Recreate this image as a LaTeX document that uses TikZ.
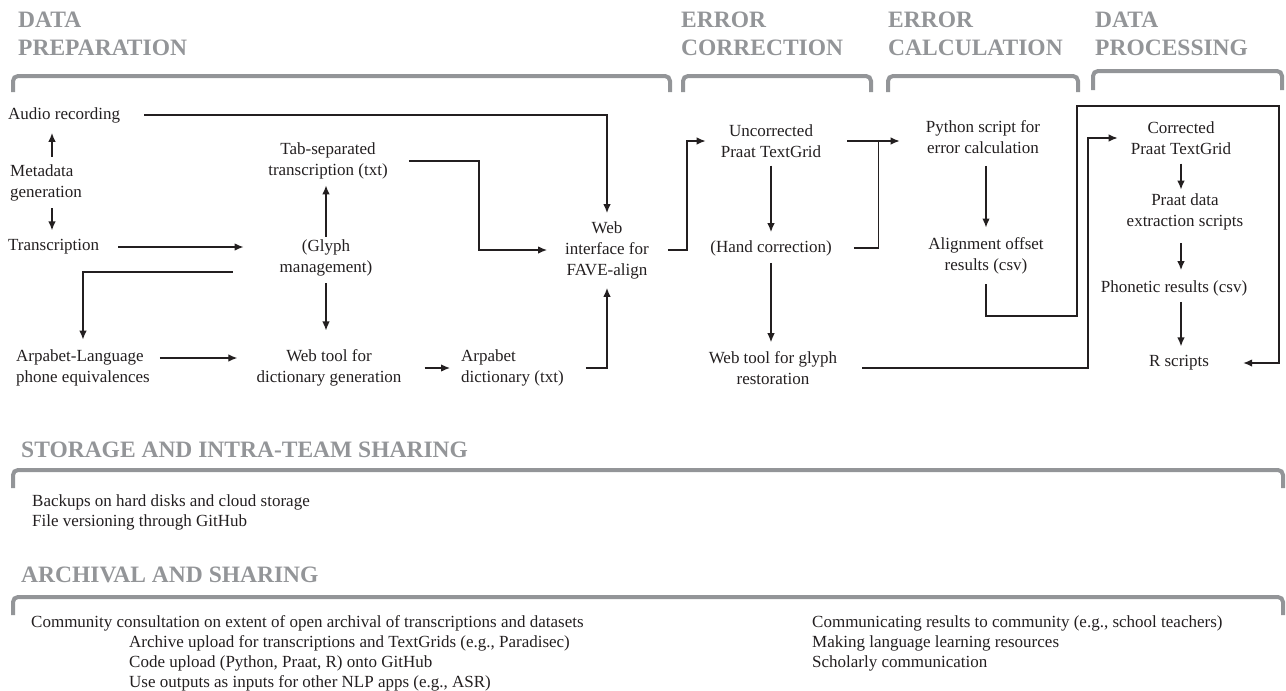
\documentclass[tikz,border=0pt]{standalone}
\usepackage{fontspec}
\setmainfont{Liberation Serif}
\usepackage{tikz}
\usetikzlibrary{arrows.meta,calc}
\definecolor{headgray}{RGB}{147,149,152}
\definecolor{ink}{RGB}{35,31,32}

\begin{document}
\begin{tikzpicture}[x=1pt,y=-1pt,
  txt/.style={inner sep=0pt,font=\fontsize{17}{21}\selectfont,text=ink},
  list/.style={txt,anchor=west,align=left,font=\fontsize{17}{20}\selectfont},
  head/.style={inner sep=0pt,anchor=west,align=left,font=\fontsize{23.5}{28}\selectfont\bfseries,text=headgray},
  arr/.style={draw=ink,line width=1.3pt,-{Latex[length=9pt,width=7.5pt]}},
  bracket/.style={draw=headgray,line width=4pt,rounded corners=5pt}]
\useasboundingbox (0,0) rectangle (1286,691);
\node[head] (hprep) at (18,34) {DATA\\PREPARATION};
\node[head] (hcorr) at (681,34) {ERROR\\CORRECTION};
\node[head] (hcalc) at (888,34) {ERROR\\CALCULATION};
\node[head] (hproc) at (1095,34) {DATA\\PROCESSING};
\node[head] (hstore) at (21,450) {STORAGE AND INTRA-TEAM SHARING};
\node[head] (harch) at (21,575) {ARCHIVAL AND SHARING};
\foreach \xa/\xb/\yt/\yb in {13/670/76/92,683/871/76/92,888/1078/76/92,1093/1282/71/90,13/1283/470/488,13/1283/597/615}
  \draw[bracket] (\xa,\yb) -- (\xa,\yt) -- (\xb,\yt) -- (\xb,\yb);
\node[txt,anchor=west] (audio) at (8,115) {Audio recording};
\node[txt,anchor=west,align=left] (meta) at (10,183) {Metadata\\generation};
\node[txt,anchor=west] (trans) at (8,247) {Transcription};
\node[txt,anchor=west,align=left] (arpl) at (16,368) {Arpabet-Language\\phone equivalences};
\node[txt,align=center] (tab) at (328,161) {Tab-separated\\transcription (txt)};
\node[txt,align=center] (glyph) at (326,258) {(Glyph\\management)};
\node[txt,align=center] (webdict) at (329,368) {Web tool for\\dictionary generation};
\node[txt,anchor=west,align=left] (arpd) at (461,368) {Arpabet\\dictionary (txt)};
\node[txt,align=center] (fave) at (607,250) {Web\\interface for\\FAVE-align};
\node[txt,align=center] (uncor) at (771,141) {Uncorrected\\Praat TextGrid};
\node[txt] (hand) at (771,248) {(Hand correction)};
\node[txt,align=center] (glyphweb) at (773,368) {Web tool for glyph\\restoration};
\node[txt,align=center] (python) at (983,137) {Python script for\\error calculation};
\node[txt,align=center] (offset) at (986,256) {Alignment offset\\results (csv)};
\node[txt,align=center] (corr) at (1181,138) {Corrected\\Praat TextGrid};
\node[txt,align=center] (praat) at (1185,212) {Praat data\\extraction scripts};
\node[txt] (phon) at (1174,288) {Phonetic results (csv)};
\node[txt] (rscr) at (1179,363) {R scripts};
\node[list] (store) at (32,512) {Backups on hard disks and cloud storage\\File versioning through GitHub};
\node[txt,anchor=west] (consult) at (31,623) {Community consultation on extent of open archival of transcriptions and datasets};
\node[list] (archive) at (129,663) {Archive upload for transcriptions and TextGrids (e.g., Paradisec)\\Code upload (Python, Praat, R) onto GitHub\\Use outputs as inputs for other NLP apps (e.g., ASR)};
\node[list] (outreach) at (812,643) {Communicating results to community (e.g., school teachers)\\Making language learning resources\\Scholarly communication};
\coordinate (metacol) at (52,0);
\coordinate (tabturn) at (479,0);
\coordinate (faveturn) at (687,0);
\coordinate (corrturn) at (1088,0);
\coordinate (offturn) at (1077,316);
\coordinate (loop) at (1279,106);
\coordinate (errjoin) at ($(uncor.east)!.55!(uncor.east -| python.west)$);
\draw[arr,shorten <=24pt,shorten >=8pt] (audio.east) -| (fave.north);
\draw[arr,shorten <=8pt,shorten >=10pt] (meta.north -| metacol) -- (audio.south -| metacol);
\draw[arr,shorten <=7pt,shorten >=9pt] (meta.south -| metacol) -- (trans.north -| metacol);
\draw[arr,shorten <=19pt,shorten >=36pt] (trans.east) -- (trans.east -| glyph.west);
\draw[arr,shorten <=3pt,shorten >=6pt] (glyph.north) -- (glyph.north |- tab.south);
\draw[arr,shorten <=47pt,shorten >=10pt] ([yshift=-14pt]glyph.west) -| (arpl.north);
\draw[arr,shorten <=7pt,shorten >=19pt] (glyph.south) -- (glyph.south |- webdict.north);
\draw[arr,shorten <=10pt,shorten >=19pt] ([yshift=10pt]arpl.east) -- ([yshift=10pt]webdict.west);
\draw[arr,shorten <=23pt,shorten >=11pt] (webdict.east) -- (arpd.west);
\draw[arr,shorten <=22pt,shorten >=9pt] (arpd.east) -| (fave.south);
\draw[arr,shorten <=21pt,shorten >=18pt] (tab.east) -| (tabturn |- fave.west) -- (fave.west);
\draw[arr,shorten <=19pt,shorten >=15pt] (fave.east) -| (faveturn |- uncor.west) -- (uncor.west);
\draw[arr,shorten <=8pt,shorten >=8pt] (uncor.south) -- (uncor.south |- hand.north);
\draw[arr,shorten <=7pt,shorten >=9pt] (hand.south) -- (hand.south |- glyphweb.north);
\draw[arr,shorten <=26pt,shorten >=26pt] (uncor.east) -- (uncor.east -| python.west);
\draw[draw=ink,line width=1.3pt,shorten <=22pt] (hand.east) -| (errjoin);
\draw[arr,shorten <=12pt,shorten >=10pt] (offset.north |- python.south) -- (offset.north);
\draw[arr,shorten <=10pt,shorten >=34pt] (offset.south) |- (offturn) |- (loop) |- (rscr.east);
\draw[arr,shorten <=25pt,shorten >=13pt] (glyphweb.east) -| (corrturn |- corr.west) -- (corr.west);
\draw[arr,shorten <=9pt,shorten >=4pt] (corr.south) -- (corr.south |- praat.north);
\draw[arr,shorten <=13pt,shorten >=10pt] (praat.south -| corr.south) -- (phon.north -| corr.south);
\draw[arr,shorten <=6pt,shorten >=9pt] (phon.south -| corr.south) -- (rscr.north -| corr.south);
\end{tikzpicture}
\end{document}
